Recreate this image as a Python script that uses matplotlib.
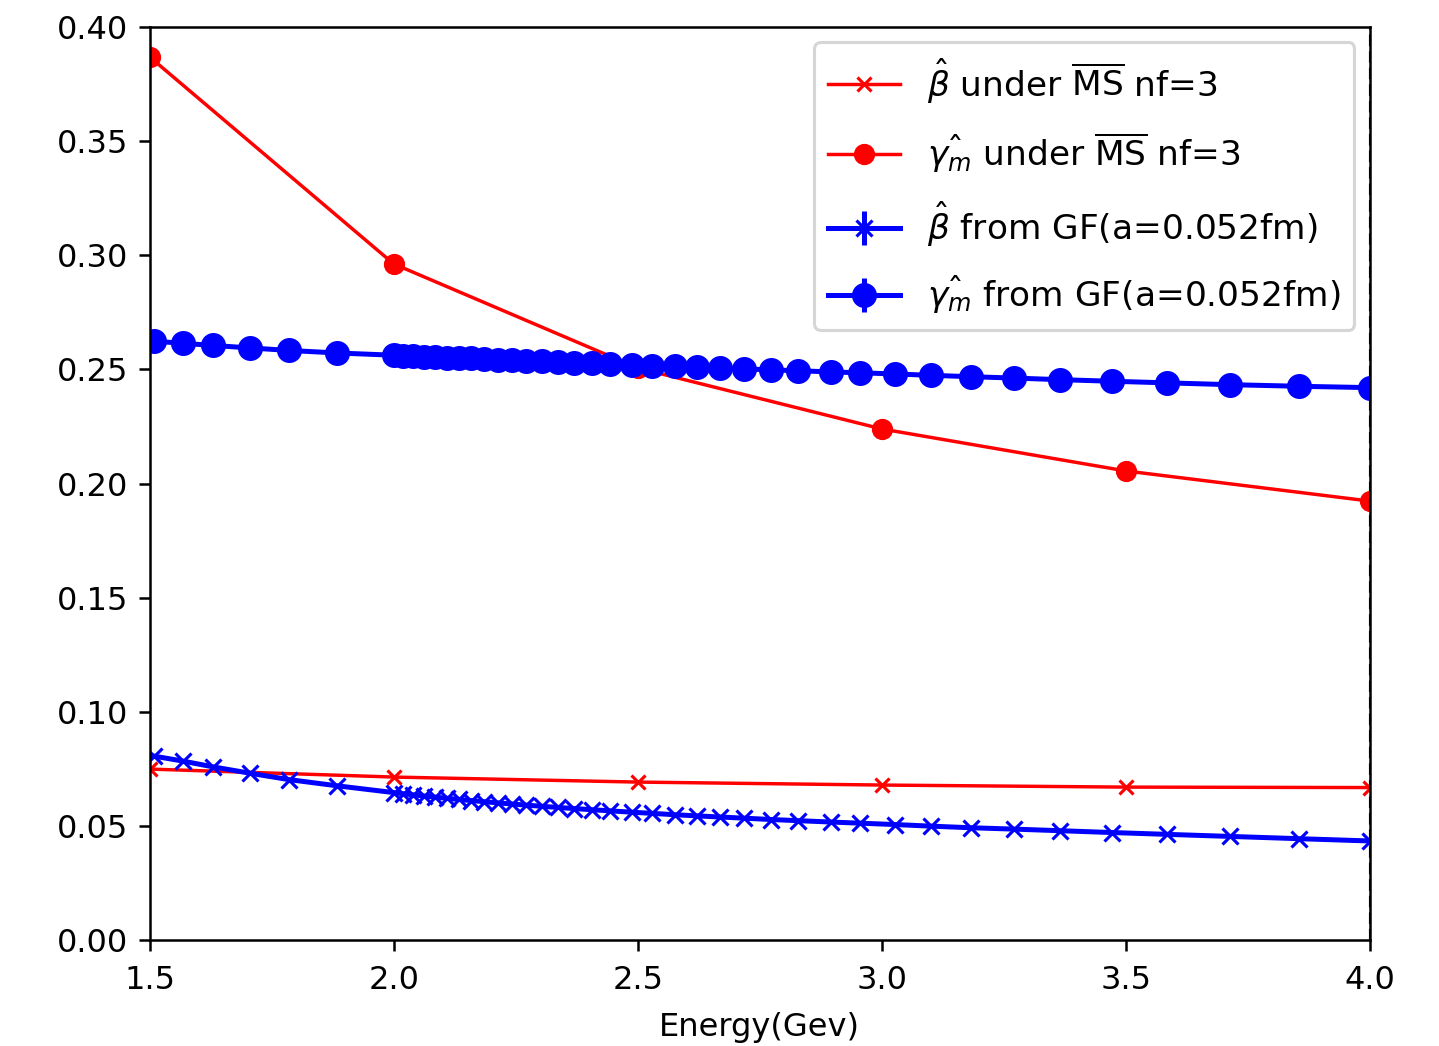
import matplotlib
matplotlib.use("Agg")
import matplotlib.pyplot as plt

# MS-bar nf=3 curves
ms_x = [1.5, 2.0, 2.5, 3.0, 3.5, 4.0]
ms_beta = [0.0749, 0.0714, 0.0692, 0.0679, 0.0670, 0.0668]
ms_gamma = [0.3869, 0.2962, 0.2506, 0.2239, 0.2055, 0.1923]

# Gradient-flow curves (a=0.052fm)
gf_x = [1.508, 1.568, 1.629, 1.705, 1.785, 1.883, 2.0,
        2.019, 2.040, 2.062, 2.085, 2.109, 2.134, 2.159, 2.186, 2.213,
        2.242, 2.272, 2.303, 2.336, 2.370, 2.406, 2.443, 2.488, 2.529,
        2.576, 2.621, 2.668, 2.717, 2.773, 2.828, 2.895, 2.955, 3.027,
        3.100, 3.182, 3.270, 3.365, 3.471, 3.584, 3.713, 3.855, 4.0]
gf_gamma = [0.2624, 0.2614, 0.2605, 0.2594, 0.2583, 0.2572, 0.2562,
            0.2560, 0.2558, 0.2556, 0.2554, 0.2552, 0.2550, 0.2548, 0.2546, 0.2543,
            0.2541, 0.2538, 0.2536, 0.2533, 0.2530, 0.2527, 0.2524, 0.2520, 0.2517,
            0.2513, 0.2510, 0.2506, 0.2502, 0.2498, 0.2494, 0.2489, 0.2485, 0.2480,
            0.2474, 0.2468, 0.2462, 0.2455, 0.2448, 0.2441, 0.2433, 0.2426, 0.2420]
gf_beta = [0.0806, 0.0784, 0.0759, 0.0731, 0.0703, 0.0676, 0.0646,
           0.0641, 0.0636, 0.0631, 0.0626, 0.0621, 0.0616, 0.0611, 0.0606, 0.0601,
           0.0596, 0.0591, 0.0586, 0.0581, 0.0576, 0.0571, 0.0566, 0.0560, 0.0555,
           0.0549, 0.0544, 0.0539, 0.0534, 0.0528, 0.0523, 0.0517, 0.0512, 0.0506,
           0.0499, 0.0492, 0.0486, 0.0479, 0.0471, 0.0463, 0.0454, 0.0444, 0.0434]
gf_err = 0.0004

labels = [r'$\hat{\beta}$ under $\overline{\mathrm{MS}}$ nf=3',
          r'$\hat{\gamma_m}$ under $\overline{\mathrm{MS}}$ nf=3',
          r'$\hat{\beta}$ from GF(a=0.052fm)',
          r'$\hat{\gamma_m}$ from GF(a=0.052fm)']

plt.rcParams['font.size'] = 10.3
fig = plt.figure(figsize=(1439/225, 1046/225), dpi=225)
ax = fig.add_axes([0.104, 0.1013, 0.848, 0.8729])

ax.plot(ms_x, ms_beta, 'x-', color='red', lw=1.1, ms=4.5, label=labels[0])
ax.plot(ms_x, ms_gamma, 'o-', color='red', lw=1.1, ms=5.8, label=labels[1])
ax.errorbar(gf_x, gf_beta, yerr=gf_err, fmt='x-', color='blue', lw=1.6, ms=5, label=labels[2])
ax.errorbar(gf_x, gf_gamma, yerr=gf_err, fmt='o-', color='blue', lw=1.6, ms=7, label=labels[3])
ax.axvline(4.0, color='k', ls='--', lw=1.0)

ax.set_xlim(1.5, 4.0)
ax.set_ylim(0.0, 0.40)
ax.set_xticks([1.5, 2.0, 2.5, 3.0, 3.5, 4.0])
ax.set_yticks([0.0, 0.05, 0.10, 0.15, 0.20, 0.25, 0.30, 0.35, 0.40])
ax.set_yticklabels(['0.00', '0.05', '0.10', '0.15', '0.20', '0.25', '0.30', '0.35', '0.40'])
ax.tick_params(axis='x', pad=4.5)
ax.set_xlabel('Energy(Gev)', labelpad=5)
ax.legend(loc='upper right', fontsize=11, labelspacing=0.72, handlelength=2.1,
          borderaxespad=0.45)

fig.savefig('out.png', dpi=225)
